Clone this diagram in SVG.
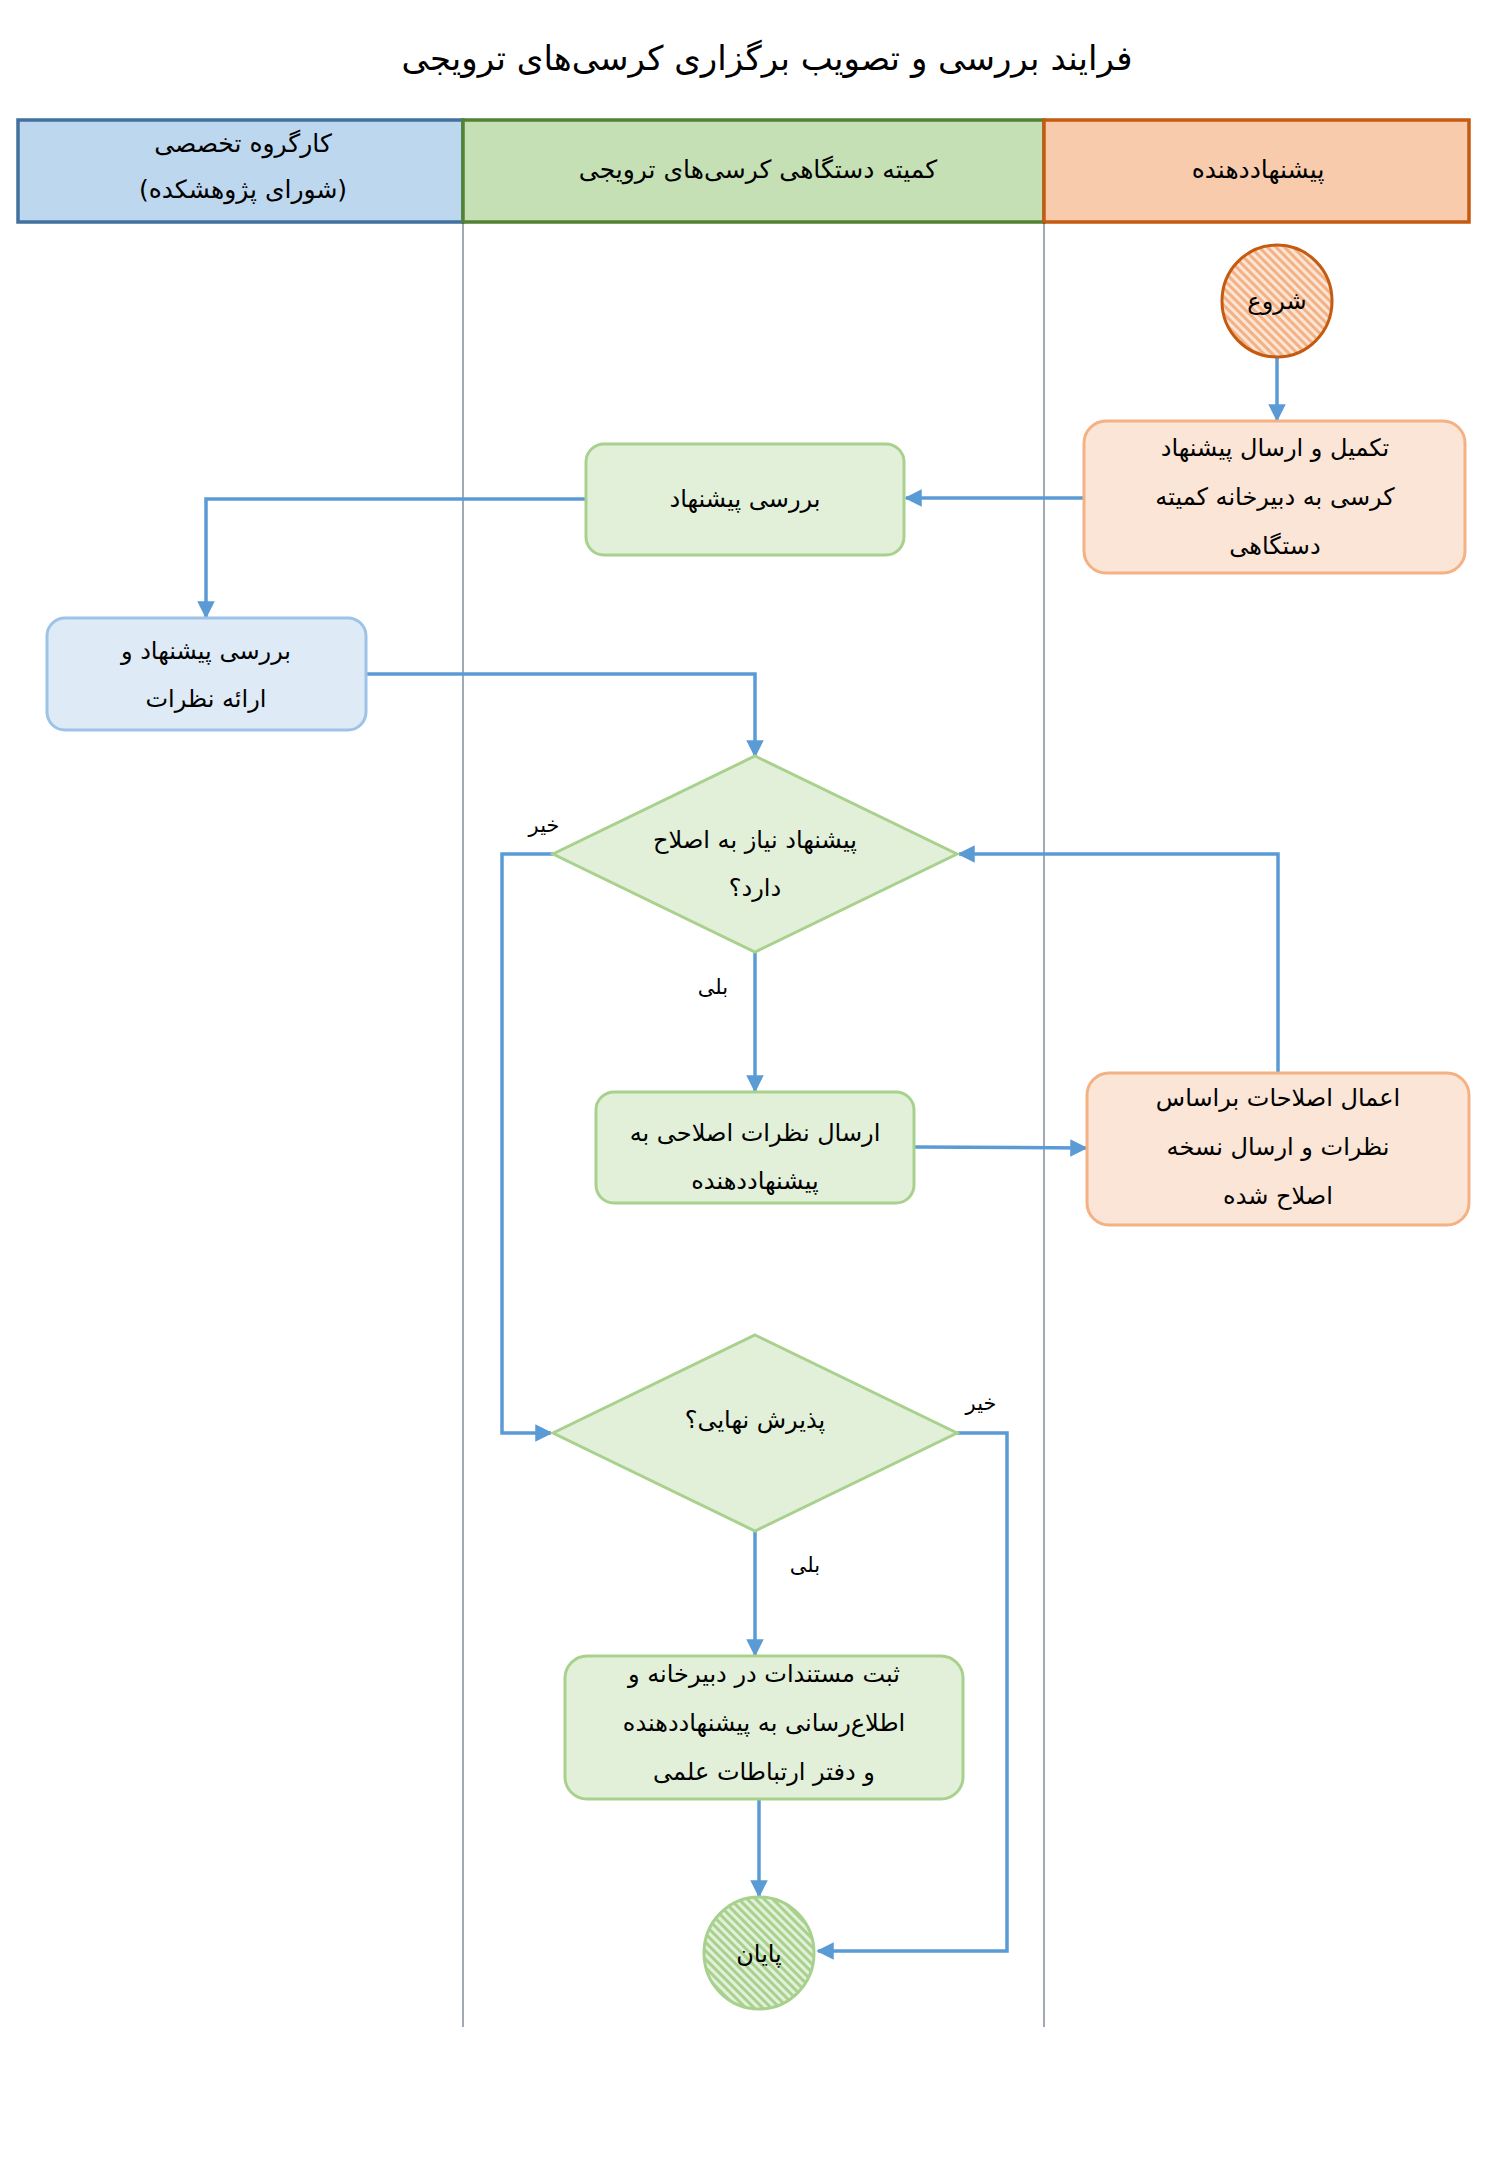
<svg xmlns="http://www.w3.org/2000/svg" width="1500" height="2167" viewBox="0 0 1500 2167">
<style>
text{font-family:"DejaVu Sans","Noto Sans",sans-serif;fill:#000;text-anchor:middle;direction:rtl}
.t{font-size:24px}
.h{font-size:25px}
.lb{font-size:21px}
.c{fill:none;stroke:#5b9bd5;stroke-width:3.5;marker-end:url(#a)}
.o{fill:#fbe5d6;stroke:#f4b183;stroke-width:3}
.g{fill:#e2f0d9;stroke:#a9d18e;stroke-width:3}
.b{fill:#deebf7;stroke:#9dc3e6;stroke-width:3}
.lane{stroke:#44546a;stroke-width:1}
</style>
<defs>
<marker id="a" viewBox="0 0 10 10" refX="9" refY="5" markerWidth="5" markerHeight="5" orient="auto" markerUnits="strokeWidth"><path d="M0,0L10,5L0,10z" fill="#5b9bd5"/></marker>
<pattern id="ho" width="6" height="6" patternUnits="userSpaceOnUse" patternTransform="rotate(-45)"><rect width="6" height="6" fill="#fbe5d6"/><rect width="3" height="6" fill="#f4b183"/></pattern>
<pattern id="hg" width="6" height="6" patternUnits="userSpaceOnUse" patternTransform="rotate(-45)"><rect width="6" height="6" fill="#e2f0d9"/><rect width="3" height="6" fill="#a9d18e"/></pattern>
</defs>
<rect width="1500" height="2167" fill="#fff"/>
<text x="767" y="70" style="font-size:34px">فرایند بررسی و تصویب برگزاری کرسی‌های ترویجی</text>
<g id="lanes">
<rect x="18" y="120" width="445" height="102" fill="#bdd7ee" stroke="#41719c" stroke-width="3.5"/>
<rect x="463" y="120" width="581" height="102" fill="#c5e0b4" stroke="#548235" stroke-width="3.5"/>
<rect x="1044" y="120" width="425" height="102" fill="#f8cbad" stroke="#c55a11" stroke-width="3.5"/>
<text class="h" x="243" y="152">کارگروه تخصصی</text>
<text class="h" x="243" y="198">(شورای پژوهشکده)</text>
<text class="h" x="758" y="178">کمیته دستگاهی کرسی‌های ترویجی</text>
<text class="h" x="1258" y="178">پیشنهاددهنده</text>
<line class="lane" x1="463" y1="222" x2="463" y2="2027"/>
<line class="lane" x1="1044" y1="222" x2="1044" y2="2027"/>
</g>
<g id="connectors">
<path class="c" d="M1277,358V420"/>
<path class="c" d="M1084,498H906"/>
<path class="c" d="M586,499H206V617"/>
<path class="c" d="M366,674H755V756"/>
<path class="c" d="M755,952V1091"/>
<path class="c" d="M914,1147L1086,1148"/>
<path class="c" d="M1278,1073V854H959"/>
<path class="c" d="M553,854H502V1433H551"/>
<path class="c" d="M755,1531V1655"/>
<path class="c" d="M957,1433H1007V1951H818"/>
<path class="c" d="M759,1799V1896"/>
<text class="lb" x="544" y="832">خیر</text>
<text class="lb" x="713" y="994">بلی</text>
<text class="lb" x="981" y="1410">خیر</text>
<text class="lb" x="805" y="1572">بلی</text>
</g>
<g id="start"><ellipse cx="1277" cy="301" rx="55" ry="56" fill="url(#ho)" stroke="#c55a11" stroke-width="3"/><text class="t" x="1277" y="309">شروع</text></g>
<g id="n1"><rect class="o" x="1084" y="421" width="381" height="152" rx="22"/><text class="t" x="1275" y="456">تکمیل و ارسال پیشنهاد</text><text class="t" x="1275" y="505">کرسی به دبیرخانه کمیته</text><text class="t" x="1275" y="554">دستگاهی</text></g>
<g id="n2"><rect class="g" x="586" y="444" width="318" height="111" rx="18"/><text class="t" x="745" y="507">بررسی پیشنهاد</text></g>
<g id="n3"><rect class="b" x="47" y="618" width="319" height="112" rx="18"/><text class="t" x="206" y="659">بررسی پیشنهاد و</text><text class="t" x="206" y="707">ارائه نظرات</text></g>
<g id="d1"><polygon class="g" points="755,756 957,854 755,952 553,854"/><text class="t" x="755" y="848">پیشنهاد نیاز به اصلاح</text><text class="t" x="755" y="896">دارد؟</text></g>
<g id="n4"><rect class="g" x="596" y="1092" width="318" height="111" rx="18"/><text class="t" x="755" y="1141">ارسال نظرات اصلاحی به</text><text class="t" x="755" y="1189">پیشنهاددهنده</text></g>
<g id="n5"><rect class="o" x="1087" y="1073" width="382" height="152" rx="22"/><text class="t" x="1278" y="1106">اعمال اصلاحات براساس</text><text class="t" x="1278" y="1155">نظرات و ارسال نسخه</text><text class="t" x="1278" y="1204">اصلاح شده</text></g>
<g id="d2"><polygon class="g" points="755,1335 957,1433 755,1531 553,1433"/><text class="t" x="755" y="1428">پذیرش نهایی؟</text></g>
<g id="n6"><rect class="g" x="565" y="1656" width="398" height="143" rx="22"/><text class="t" x="764" y="1682">ثبت مستندات در دبیرخانه و</text><text class="t" x="764" y="1731">اطلاع‌رسانی به پیشنهاددهنده</text><text class="t" x="764" y="1780">و دفتر ارتباطات علمی</text></g>
<g id="end"><ellipse cx="759" cy="1953" rx="55" ry="56" fill="url(#hg)" stroke="#a9d18e" stroke-width="3"/><text class="t" x="759" y="1962">پایان</text></g>
</svg>
